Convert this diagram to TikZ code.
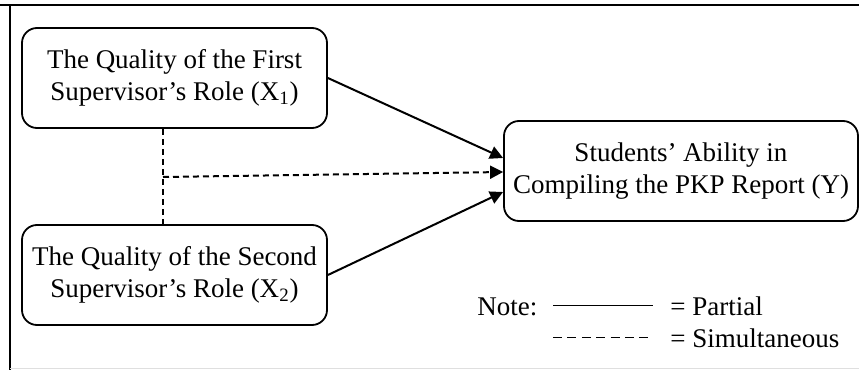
\documentclass[tikz,border=0pt]{standalone}
\usepackage{fontspec}
\setmainfont{Liberation Serif}
\usetikzlibrary{arrows.meta,positioning}
\tikzset{
  var/.style={draw,rounded corners=7.5pt,line width=0.9pt,align=center,inner sep=0pt,
    minimum height=50pt,font=\fontsize{13.5}{16}\selectfont},
  link/.style={line width=1pt,-{Triangle[length=6.5pt,width=6.5pt]}},
  sim/.style={dash pattern=on 3pt off 2pt},
  txt/.style={anchor=base west,inner sep=0pt,font=\fontsize{13.5}{16}\selectfont}
}
\begin{document}
\begin{tikzpicture}[x=0.5pt,y=-0.5pt]
        \useasboundingbox (0,0) rectangle (859,370);
        \draw[line width=1.4pt] (0,5) -- (859,5);
        \draw[line width=1.4pt] (10,5) -- (10,370);
        \draw[gray!25,line width=0.5pt] (10,368) -- (859,368);
        \node[var,minimum width=152.5pt] (x1) at (174.5,78) {The Quality of the First\\Supervisor’s Role (X\textsubscript{1})};
        \node[var,minimum width=152.5pt] (x2) at (174.5,275) {The Quality of the Second\\Supervisor’s Role (X\textsubscript{2})};
        \node[var,minimum width=177pt] (y) at (681,171) {Students’ Ability in\\Compiling the PKP Report (Y)};
        \coordinate (j) at (163,177);
        \draw[link] (x1.east) -- ([yshift=6.5pt]y.west);
        \draw[link] (x2.east) -- ([yshift=-10.5pt]y.west);
        \draw[line width=1pt,sim] (x1.south -| j) -- (x2.north -| j);
        \draw[link,sim] (j) -- ([yshift=-0.5pt]y.west);
        \node[txt] (note) at (477,315) {Note:};
        \coordinate (p1) at (553,305);
        \coordinate (p2) at (653,305);
        \coordinate (s1) at (553,337);
        \coordinate (s2) at (653,337);
        \draw[line width=0.5pt] (p1) -- (p2);
        \draw[line width=0.5pt,dash pattern=on 4.5pt off 2.7pt] (s1) -- (s2);
        \node[txt] (partial) at (670,315) {= Partial};
        \node[txt] (simul) at (670,347) {= Simultaneous};
    \end{tikzpicture}
\end{document}
